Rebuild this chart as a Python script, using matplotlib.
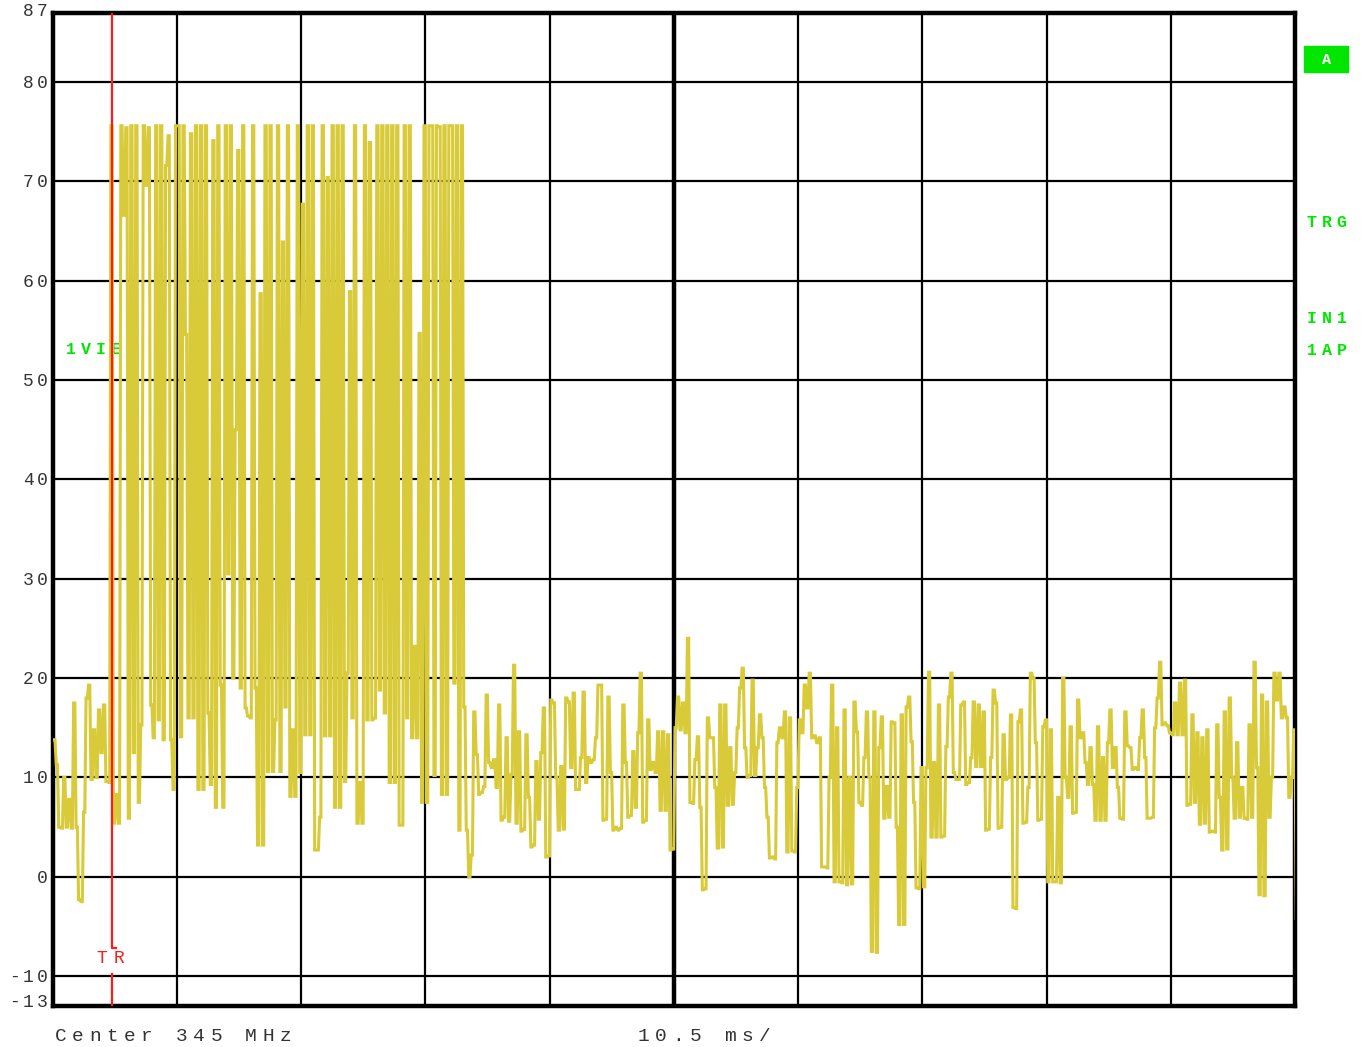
import numpy as np
import matplotlib.pyplot as plt
from matplotlib.transforms import Affine2D, IdentityTransform, blended_transform_factory, offset_copy

# sweep settings
div_ms = 10.5
n_div = 10
ref_top = 87
ref_bottom = -13
y_grid = [-10, 0, 10, 20, 30, 40, 50, 60, 70, 80]
y_labels = [87, 80, 70, 60, 50, 40, 30, 20, 10, 0, -10, -13]
trigger_ms = 5.07
trigger_gap = (-7.2, -9.8)

# trace level (dB) per grid division, 50 samples per division
div0 = [13.8, 11.3, 5.0, 4.9, 10.0, 5.0, 7.8, 4.9, 17.5, 5.0,
        -2.3, -2.5, 6.5, 18.0, 19.3, 9.8, 14.8, 10.0, 16.8, 12.5,
        17.3, 9.6, 9.5, 75.6, 5.4, 8.3, 5.4, 75.6, 66.6, 75.4,
        5.9, 75.6, 12.5, 75.6, 7.5, 15.3, 75.6, 69.6, 75.4, 17.3,
        14.0, 75.6, 15.8, 75.6, 13.8, 71.6, 74.6, 13.8, 8.8, 75.6]
div1 = [75.6, 14.1, 75.6, 54.6, 16.0, 74.8, 16.0, 75.6, 8.8, 75.6,
        8.8, 75.6, 16.5, 9.3, 74.1, 7.0, 75.6, 19.3, 7.0, 75.6,
        30.5, 75.6, 20.0, 45.0, 73.1, 19.0, 75.6, 17.0, 16.2, 16.0,
        75.6, 19.0, 3.2, 58.7, 3.2, 75.6, 10.6, 75.6, 10.6, 15.8,
        75.6, 10.6, 63.9, 17.1, 75.6, 8.1, 14.8, 8.1, 75.6, 10.5]
div2 = [67.7, 14.3, 75.6, 14.3, 75.6, 2.7, 2.7, 6.0, 75.6, 14.2,
        70.4, 14.2, 75.6, 7.0, 75.6, 7.0, 75.6, 9.6, 20.5, 58.9,
        16.0, 75.6, 5.4, 9.5, 5.4, 75.6, 15.8, 73.9, 15.8, 16.0,
        75.6, 18.8, 75.6, 16.5, 75.6, 9.5, 75.6, 9.5, 75.6, 5.2,
        5.2, 75.6, 16.0, 75.6, 14.0, 23.2, 14.0, 54.7, 7.5, 75.6]
div3 = [7.5, 75.6, 75.6, 10.2, 75.6, 75.5, 8.3, 75.6, 8.3, 75.6,
        75.6, 19.5, 75.6, 4.7, 75.6, 17.1, 4.7, 0.0, 2.2, 16.6,
        12.3, 8.3, 8.5, 9.1, 18.3, 11.5, 11.0, 11.8, 9.0, 17.3,
        5.7, 6.0, 14.0, 5.6, 10.3, 21.3, 5.4, 14.6, 4.6, 4.8,
        14.3, 8.0, 3.0, 3.2, 11.6, 5.8, 12.5, 17.0, 2.0, 2.1]
div4 = [17.8, 17.5, 10.0, 4.7, 11.1, 4.8, 18.0, 17.6, 11.0, 18.5,
        8.8, 8.8, 12.0, 18.6, 9.5, 12.0, 11.5, 11.8, 14.0, 19.3,
        19.3, 5.7, 5.8, 18.1, 10.5, 4.7, 5.0, 4.7, 4.9, 17.3,
        11.5, 6.0, 6.2, 12.6, 7.0, 14.5, 20.5, 5.5, 5.7, 15.8,
        10.8, 11.5, 10.5, 14.6, 6.7, 14.6, 6.7, 14.3, 2.7, 2.8]
div5 = [15.0, 18.1, 14.8, 17.5, 14.5, 24.0, 7.5, 7.4, 11.8, 14.1,
        7.0, -1.3, -1.2, 16.0, 14.0, 14.0, 9.0, 2.9, 17.3, 3.0,
        17.3, 7.2, 13.0, 7.3, 10.5, 15.0, 19.0, 21.0, 13.0, 10.0,
        10.2, 19.8, 10.2, 13.0, 16.3, 14.0, 9.0, 6.0, 1.9, 2.0,
        1.8, 13.5, 15.0, 14.0, 16.6, 2.5, 16.0, 2.6, 2.5, 9.0]
div6 = [15.8, 14.5, 19.3, 17.0, 20.5, 14.0, 14.2, 13.5, 14.0, 1.0,
        1.0, 0.9, 10.0, 19.3, -0.5, 15.0, -0.5, -0.6, 16.8, -0.8,
        10.0, -0.7, 17.6, 14.6, 7.5, 7.2, 12.0, 16.6, 10.0, -7.5,
        16.6, -7.6, 13.0, 16.1, 5.9, 9.1, 6.0, 15.6, 15.5, 5.0,
        -4.8, 16.3, -4.8, 17.1, 18.1, 13.6, 7.5, -1.1, -1.2, 11.0]
div7 = [-1.0, 11.0, 20.6, 4.0, 11.5, 4.0, 17.3, 4.0, 4.1, 13.1,
        18.1, 20.5, 10.5, 9.8, 9.8, 17.3, 17.6, 9.3, 9.5, 12.0,
        17.6, 11.1, 17.3, 11.1, 16.6, 4.7, 4.8, 12.0, 18.8, 17.5,
        4.9, 5.0, 14.3, 9.8, 10.0, 16.3, -3.1, -3.2, 15.6, 16.8,
        5.4, 5.5, 9.0, 20.5, 20.0, 13.5, 5.7, 5.8, 15.1, 15.8]
div8 = [-0.5, 14.8, -0.5, -0.5, 8.0, -0.6, 20.0, 10.0, 8.0, 15.1,
        6.4, 6.5, 17.8, 14.0, 14.5, 11.5, 9.3, 13.0, 9.3, 5.7,
        15.1, 5.7, 12.0, 5.7, 13.5, 16.8, 11.0, 13.0, 9.0, 5.9,
        5.8, 16.6, 13.2, 13.0, 10.8, 11.0, 10.8, 14.0, 16.8, 12.0,
        5.9, 5.9, 6.0, 15.0, 18.0, 21.6, 15.3, 15.5, 15.2, 14.5]
div9 = [14.3, 17.5, 14.3, 19.5, 14.3, 19.8, 7.2, 7.3, 16.3, 7.5,
        14.5, 5.3, 14.0, 5.4, 14.8, 4.5, 4.6, 4.5, 15.3, 8.0,
        2.7, 16.6, 2.8, 18.0, 10.0, 5.9, 13.5, 6.0, 9.0, 5.9,
        5.8, 15.3, 6.0, 21.6, 11.0, -1.8, 18.3, -1.9, 17.6, 6.0,
        10.0, 20.5, 17.8, 20.5, 16.0, 17.1, 16.0, 8.0, 10.0, 14.8,
        -4.2]
divisions = [div0, div1, div2, div3, div4, div5, div6, div7, div8, div9]
samples_per_div = 50

W, H = 1362, 1047
fig = plt.figure(figsize=(W / 100, H / 100), dpi=100)
fig.patch.set_facecolor('white')
ax = fig.add_axes([52.5 / W, 1 - 1006 / H, (1295 - 52.5) / W, (1006 - 12.5) / H])

# build time axis and the instrument's "flag" drawing of each sample
t_list, v_list = [], []
for d, vals in enumerate(divisions):
    idx = np.arange(len(vals))
    t_list.append((d + (idx + 0.5) / samples_per_div) * div_ms)
    v_list.append(np.array(vals))
t = np.concatenate(t_list)
v = np.concatenate(v_list)
dt = div_ms / samples_per_div
xs = np.empty(2 * len(t))
ys = np.empty(2 * len(t))
xs[0::2] = t
xs[1::2] = t + 0.5 * dt
ys[0::2] = v
ys[1::2] = v

trace_col = '#d8ca38'
ax.plot(xs, ys, color=trace_col, lw=2.2, zorder=3, solid_joinstyle='miter')

ax.set_xlim(0, n_div * div_ms)
ax.set_ylim(ref_bottom, ref_top)
ax.set_xticks(np.arange(n_div + 1) * div_ms)
ax.set_yticks(y_grid)
ax.tick_params(length=0, labelbottom=False, labelleft=False)
ax.grid(True, color='black', lw=1.6, zorder=1)
ax.set_axisbelow(True)
ax.axvline(n_div * div_ms / 2, color='black', lw=3.2, zorder=1)
for sp in ax.spines.values():
    sp.set_linewidth(3.2)
    sp.set_color('black')

# trigger line
red = '#ff1a1a'
ax.plot([trigger_ms, trigger_ms, trigger_ms + 0.3], [ref_top, trigger_gap[0], trigger_gap[0]],
        color=red, lw=1.6, zorder=5)
ax.plot([trigger_ms, trigger_ms], [trigger_gap[1], ref_bottom], color=red, lw=1.6, zorder=5)

# text helpers (positions in screen pixels, top-left origin)
pix = Affine2D().scale(1, -1).translate(0, H)
label_font = ['Liberation Mono', 'DejaVu Sans Mono']


def spaced(x0, y, s, pitch, trans, **kw):
    for i, ch in enumerate(s):
        if ch == ' ':
            continue
        tr = offset_copy(trans, fig=fig, x=x0 + i * pitch, y=0, units='dots')
        ax.text(0, y, ch, transform=tr, ha='center', va='baseline',
                family=label_font, clip_on=False, **kw)


# y labels, right aligned; the end labels sit a little higher
ylab_trans = blended_transform_factory(IdentityTransform(), ax.transData)
for val in y_labels:
    s = str(val)
    if val == ref_top:
        shift = -3
    elif val == ref_bottom:
        shift = -1
    else:
        shift = -6
    tr = offset_copy(ylab_trans, fig=fig, x=0, y=shift, units='dots')
    spaced(42 - 14 * (len(s) - 1), val, s, 14, tr, fontsize=13, color='#333333')

spaced(60.5, 1041, 'Center 345 MHz', 17.3, pix, fontsize=14, color='#333333')
spaced(643, 1041, '10.5 ms/', 17.4, pix, fontsize=14, color='#333333')
spaced(102, 963, 'TR', 17, pix, fontsize=13, color=red)

green = '#00e600'
ax.add_patch(plt.Rectangle((1304, 46), 44, 26, transform=pix, color=green,
                           clip_on=False, zorder=4))
spaced(1327, 64, 'A', 15, pix, fontsize=11, color='white', weight='bold', zorder=5)
spaced(1311.5, 227, 'TRG', 15, pix, fontsize=12, color=green, weight='bold')
spaced(1311.5, 323, 'IN1', 15, pix, fontsize=12, color=green, weight='bold')
spaced(1311.5, 355, '1AP', 15, pix, fontsize=12, color=green, weight='bold')
spaced(71, 354, '1VIEW', 15, pix, fontsize=12, color=green, weight='bold', zorder=2)

fig.savefig('out.png', dpi=100, facecolor='white')
